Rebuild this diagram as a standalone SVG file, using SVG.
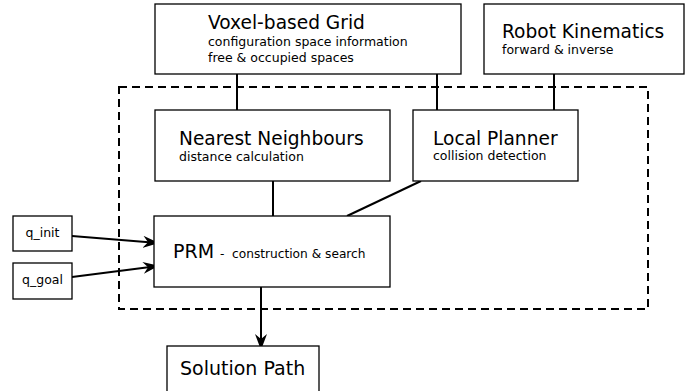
<svg xmlns="http://www.w3.org/2000/svg" width="691" height="391" viewBox="0 0 691 391">
<defs>
<style>
.box{fill:#fff;stroke:#000;stroke-width:1.3}
.t{font-family:"DejaVu Sans",Verdana,sans-serif;fill:#000}
.ti{font-size:18.6px}
.sub{font-size:12.5px}
.ln{stroke:#000;stroke-width:2;fill:none}
</style>
<marker id="ah" viewBox="0 0 16 12" refX="15" refY="6" markerWidth="16" markerHeight="12" markerUnits="userSpaceOnUse" orient="auto">
<path d="M0,0 L16,6 L0,12 L5,6 z" fill="#000"/>
</marker>
</defs>
<rect x="0" y="0" width="691" height="391" fill="#fff"/>
<g id="region">
<rect x="119" y="87" width="529" height="222" fill="none" stroke="#000" stroke-width="2" stroke-dasharray="8,5"/>
</g>
<g id="connectors">
<line class="ln" x1="237" y1="74" x2="237" y2="110"/>
<line class="ln" x1="437" y1="74" x2="437" y2="110"/>
<line class="ln" x1="554" y1="74" x2="554" y2="110"/>
<line class="ln" x1="273" y1="181" x2="273" y2="216"/>
<line class="ln" x1="421" y1="181" x2="347" y2="216"/>
<line class="ln" x1="72" y1="236" x2="158" y2="243" marker-end="url(#ah)"/>
<line class="ln" x1="72" y1="277" x2="158" y2="266" marker-end="url(#ah)"/>
<line class="ln" x1="261" y1="287" x2="261" y2="349" marker-end="url(#ah)"/>
</g>
<g id="voxel">
<rect class="box" x="155" y="4" width="306" height="70"/>
<text class="t ti" x="208" y="29">Voxel-based Grid</text>
<text class="t sub" x="208" y="46">configuration space information</text>
<text class="t sub" x="208" y="62">free &amp; occupied spaces</text>
</g>
<g id="kinematics">
<rect class="box" x="484" y="4" width="200" height="70"/>
<text class="t ti" x="502" y="38">Robot Kinematics</text>
<text class="t sub" x="502" y="54">forward &amp; inverse</text>
</g>
<g id="nearest">
<rect class="box" x="155" y="110" width="235" height="71"/>
<text class="t ti" x="179" y="144.5">Nearest Neighbours</text>
<text class="t sub" x="179" y="160.5">distance calculation</text>
</g>
<g id="local">
<rect class="box" x="413" y="110" width="165" height="71"/>
<text class="t ti" x="433" y="144.5">Local Planner</text>
<text class="t sub" x="433" y="160">collision detection</text>
</g>
<g id="prm">
<rect class="box" x="154" y="216" width="236" height="71"/>
<text class="t" x="173" y="258" font-size="19">PRM</text>
<text class="t" x="220" y="258" font-size="12.2">-</text>
<text class="t" x="232" y="258" font-size="12.2">construction &amp; search</text>
</g>
<g id="qinit">
<rect class="box" x="13" y="216" width="59" height="35"/>
<text class="t sub" x="42.5" y="237" text-anchor="middle">q_init</text>
</g>
<g id="qgoal">
<rect class="box" x="13" y="263" width="59" height="36"/>
<text class="t sub" x="42.5" y="284" text-anchor="middle">q_goal</text>
</g>
<g id="solution">
<rect class="box" x="167" y="346" width="152" height="60"/>
<text class="t" x="180" y="375" font-size="19">Solution Path</text>
</g>
</svg>
